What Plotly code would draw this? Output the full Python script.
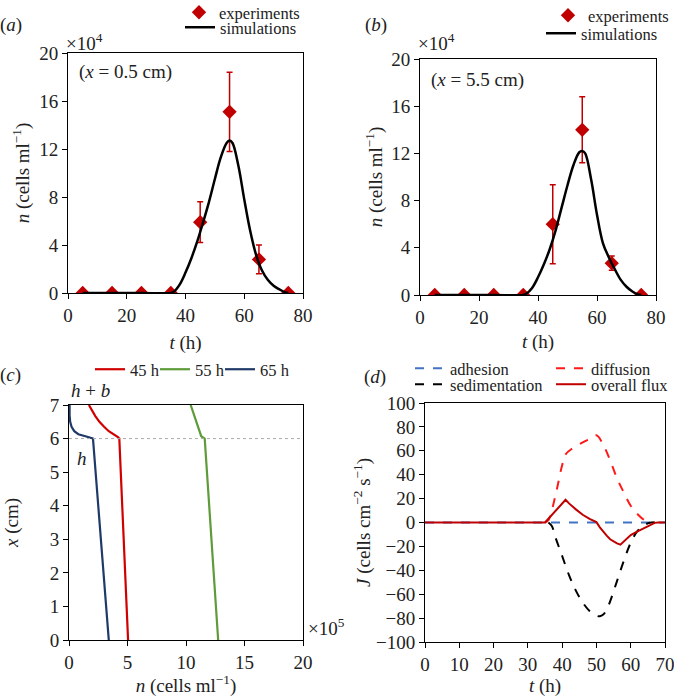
import plotly.graph_objects as go

# panel (a): x = 0.5 cm, n in units of 1e4 cells/ml
exp_t = [5, 15, 25, 35, 45, 55, 65, 75]
exp_a = [0, 0, 0, 0, 5.9, 15.1, 2.8, 0]
err_a = [0, 0, 0, 0, 1.7, 3.3, 1.2, 0]
sim_t = [5, 15, 25, 35, 36, 38, 40, 42, 44, 46, 48, 50, 52, 54, 55, 56, 58, 60, 62, 64, 66, 68, 70, 72, 74, 75]
sim_a = [0, 0, 0, 0, 0.1, 0.7, 1.7, 2.9, 4.3, 5.9, 7.6, 9.5, 11.3, 12.5, 12.7, 12.5, 10.6, 7.8, 5.2, 3.2, 1.9, 1.1, 0.6, 0.3, 0.05, 0]

# panel (b): x = 5.5 cm
exp_b = [0, 0, 0, 0, 6.0, 14.0, 2.7, 0]
err_b = [0, 0, 0, 0, 3.35, 2.8, 0.6, 0]
sim_b = [0, 0, 0, 0, 0.1, 0.6, 1.5, 2.6, 3.9, 5.5, 7.4, 9.3, 11.0, 12.1, 12.2, 12.0, 9.8, 6.8, 4.4, 3.2, 2.2, 1.3, 0.7, 0.3, 0.05, 0]

# panel (c): profiles n (1e5 cells/ml) vs x (cm)
n45 = [5.05, 4.3, 4.15, 3.8, 3.4, 3.0, 2.6, 2.25, 1.95, 1.7]
x45 = [0, 6.0, 6.05, 6.12, 6.22, 6.35, 6.5, 6.67, 6.85, 7.0]
n55 = [12.75, 11.6, 11.3, 10.4]
x55 = [0, 6.0, 6.07, 7.0]
n65 = [3.4, 2.05, 1.7, 1.2, 0.8, 0.45, 0.22, 0.1, 0.05, 0.05]
x65 = [0, 6.0, 6.04, 6.08, 6.13, 6.22, 6.35, 6.5, 6.7, 7.0]

# panel (d): fluxes
t_adh = [0, 70]
j_adh = [0, 0]
t_dif = [35, 36, 38, 40, 41, 43, 46, 48, 50, 52, 54, 56, 58, 60, 62, 64, 66, 67]
j_dif = [0, 2, 22, 48, 57, 62, 67, 70, 73, 65, 52, 37, 25, 14, 7, 2, 0, 0]
t_sed = [36, 37, 38, 40, 42, 44, 46, 48, 50, 51, 52, 53, 54, 56, 58, 60, 62, 64, 66, 67]
j_sed = [0, -3, -12, -28, -44, -57, -67, -74, -78, -78.5, -77, -73, -66, -49, -32, -17, -7, -2, 0, 0]
t_all = [0, 35, 41, 42, 44, 46, 48, 50, 51, 52, 53, 54, 55, 56, 57, 58, 59, 60, 62, 64, 66, 67, 68, 70]
j_all = [0, 0, 19, 16, 11, 6.5, 3, 0.3, -4, -8, -11, -14, -16, -17.5, -18.5, -16, -13, -10.5, -7.5, -4.5, -1.5, -0.3, 0, 0]

RED = "#C00000"
FONT = "Liberation Serif"
W, H = 674, 697


def px(x):
    return x / W


def py(y):
    return 1 - y / H


def leg(x, y):
    # one legend entry, its box placed by the top-left corner in pixels
    return dict(x=px(x), y=py(y), xanchor="left", yanchor="top", tracegroupgap=0,
                font=dict(family=FONT, size=16.5, color="#222"), bgcolor="rgba(0,0,0,0)")


fig = go.Figure()

fig.add_trace(go.Scatter(x=exp_t, y=exp_a, mode="markers", name="experiments",
                         marker=dict(symbol="diamond", size=11, color=RED),
                         error_y=dict(type="data", array=err_a, color=RED, thickness=1.5, width=3),
                         xaxis="x", yaxis="y", legend="legend"))
fig.add_trace(go.Scatter(x=sim_t, y=sim_a, mode="lines", name="simulations", line_shape="spline",
                         line=dict(color="black", width=2.5), xaxis="x", yaxis="y", legend="legend2"))

fig.add_trace(go.Scatter(x=exp_t, y=exp_b, mode="markers", name="experiments",
                         marker=dict(symbol="diamond", size=11, color=RED),
                         error_y=dict(type="data", array=err_b, color=RED, thickness=1.5, width=3),
                         xaxis="x2", yaxis="y2", legend="legend3"))
fig.add_trace(go.Scatter(x=sim_t, y=sim_b, mode="lines", name="simulations", line_shape="spline",
                         line=dict(color="black", width=2.5), xaxis="x2", yaxis="y2", legend="legend4"))

for n, x, name, col, lg in [(n45, x45, "45 h", "#D00000", "legend5"), (n55, x55, "55 h", "#5E9B3A", "legend6"),
                            (n65, x65, "65 h", "#1F3A68", "legend7")]:
    fig.add_trace(go.Scatter(x=n, y=x, mode="lines", name=name,
                             line=dict(color=col, width=2.2), xaxis="x3", yaxis="y3", legend=lg))

fig.add_trace(go.Scatter(x=t_adh, y=j_adh, mode="lines", name="adhesion",
                         line=dict(color="#4472C4", width=2, dash="dash"), xaxis="x4", yaxis="y4", legend="legend8"))
fig.add_trace(go.Scatter(x=t_dif, y=j_dif, mode="lines", name="diffusion", line_shape="spline",
                         line=dict(color="#FF1A1A", width=2, dash="dash"), xaxis="x4", yaxis="y4", legend="legend9"))
fig.add_trace(go.Scatter(x=t_sed, y=j_sed, mode="lines", name="sedimentation", line_shape="spline",
                         line=dict(color="black", width=2, dash="dash"), xaxis="x4", yaxis="y4", legend="legend10"))
fig.add_trace(go.Scatter(x=t_all, y=j_all, mode="lines", name="overall flux",
                         line=dict(color=RED, width=2), xaxis="x4", yaxis="y4", legend="legend11"))

ax = dict(showline=True, linecolor="black", linewidth=1, mirror=True, ticks="outside", ticklen=5,
          tickcolor="black", showgrid=False, zeroline=False, ticklabeloverflow="allow",
          tickfont=dict(family=FONT, size=19, color="#222"),
          title_font=dict(family=FONT, size=19, color="#222"))

nt = "<i>n</i> (cells ml<sup>−1</sup>)"
tt = "<i>t</i> (h)"
fig.update_layout(
    width=W, height=H, margin=dict(l=0, r=0, t=0, b=0, autoexpand=False),
    plot_bgcolor="white", paper_bgcolor="white",
    font=dict(family=FONT, size=16, color="#222"),
    xaxis=dict(ax, domain=[px(68), px(303)], range=[0, 80], dtick=20, anchor="y",
               title=dict(text=tt, standoff=10)),
    yaxis=dict(ax, domain=[py(293), py(53)], range=[0, 20], dtick=4, anchor="x",
               title=dict(text=nt, standoff=4)),
    xaxis2=dict(ax, domain=[px(420), px(656)], range=[0, 80], dtick=20, anchor="y2",
                title=dict(text=tt, standoff=7)),
    yaxis2=dict(ax, domain=[py(295), py(59)], range=[0, 20], dtick=4, anchor="x2",
                title=dict(text=nt, standoff=3)),
    xaxis3=dict(ax, domain=[px(69), px(303)], range=[0, 20], dtick=5, anchor="y3",
                title=dict(text=nt, standoff=3)),
    yaxis3=dict(ax, domain=[py(640), py(405)], range=[0, 7], dtick=1, anchor="x3",
                title=dict(text="<i>x</i> (cm)", standoff=26)),
    xaxis4=dict(ax, domain=[px(425), px(665)], range=[0, 70], dtick=10, anchor="y4",
                title=dict(text=tt, standoff=5)),
    yaxis4=dict(ax, domain=[py(642), py(403)], range=[-100, 100], dtick=20, anchor="x4",
                title=dict(text="<i>J</i> (cells cm<sup>−2</sup> s<sup>−1</sup>)", standoff=0)),
    legend=leg(179, -5),
    legend2=leg(180, 10),
    legend3=leg(548, -2),
    legend4=leg(541, 16),
    legend5=leg(90, 352),
    legend6=leg(155, 352),
    legend7=leg(220, 352),
    legend8=leg(410, 351),
    legend9=leg(551, 351),
    legend10=leg(410, 367),
    legend11=leg(551, 367),
    showlegend=True,
)

fig.add_shape(type="line", xref="x3 domain", yref="y3", x0=0, x1=1, y0=6, y1=6,
              line=dict(color="#AAAAAA", width=1, dash="dot"))

notes = [
    ("(<i>a</i>)", 11, 25), ("(<i>b</i>)", 376, 25), ("(<i>c</i>)", 10, 375), ("(<i>d</i>)", 375, 377),
    ("×10<sup>4</sup>", 84, 42), ("×10<sup>4</sup>", 436, 42), ("×10<sup>5</sup>", 326, 627),
    ("(<i>x</i> = 0.5 cm)", 126, 72), ("(<i>x</i> = 5.5 cm)", 478, 80),
    ("<i>h</i> + <i>b</i>", 90, 390), ("<i>h</i>", 82, 458),
]
for txt, x, y in notes:
    fig.add_annotation(text=txt, x=px(x), y=py(y), xref="paper", yref="paper", showarrow=False,
                       xanchor="center", yanchor="middle",
                       font=dict(family=FONT, size=19, color="#222"))

# the page is shown edge to edge: drop the default body margin
fig.write_html("out.html", config={"displayModeBar": False},
               post_script="document.body.style.margin='0';")
